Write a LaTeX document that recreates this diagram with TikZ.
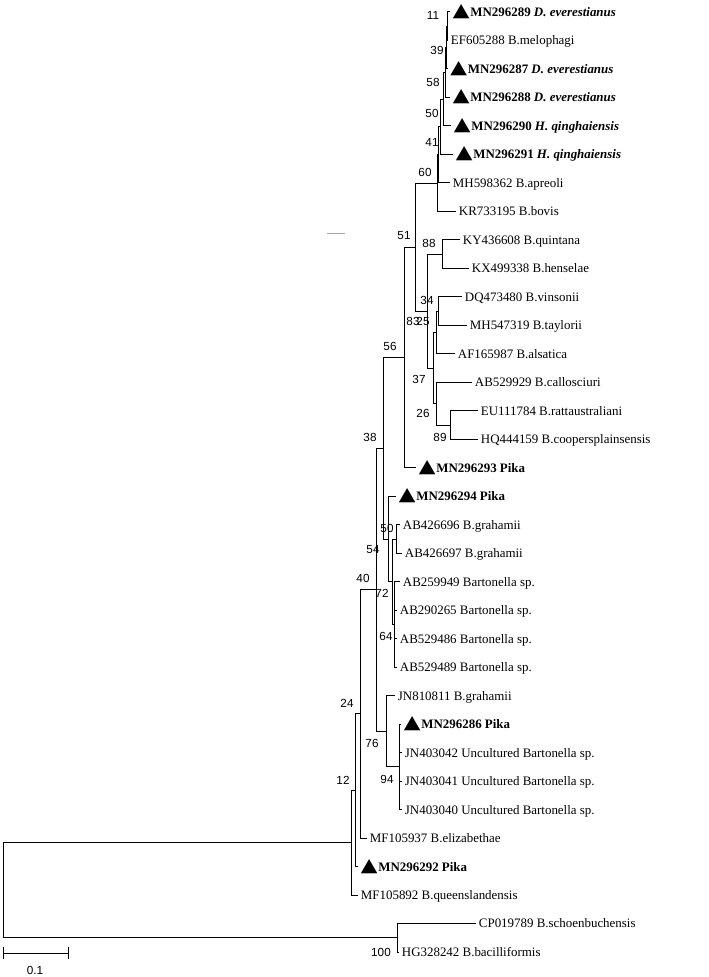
\documentclass[tikz,border=0pt]{standalone}
\usepackage{fontspec}
\usepackage{graphicx}
\setmainfont{Liberation Serif}
\newfontfamily\bootfont{Liberation Sans}
\newfontfamily\trifont{DejaVu Sans}
\usetikzlibrary{positioning}

\newcommand{\tri}{\resizebox{12.5pt}{9pt}{\trifont ▲}\hspace{0.6pt}}

\tikzset{
  branch/.style={line width=0.75pt},
  taxon/.style={anchor=west, inner xsep=2pt, inner ysep=0pt, text height=0.66em, text depth=0pt, font=\fontsize{9.7}{10}\selectfont},
  pika/.style={taxon, font=\fontsize{9.7}{10}\selectfont\bfseries},
  boot/.style={inner sep=0pt, font=\bootfont\fontsize{8.8}{9}\selectfont},
}

\begin{document}
\begin{tikzpicture}[x=0.75pt, y=-0.75pt]
    \useasboundingbox (0,0) rectangle (709,977);

    % 1. TAXA (tip of each branch, rows 28.485 apart)
    \node[pika]  (l0)  at (450, 12.0)  {\tri MN296289 \textit{D. everestianus}};
    \node[taxon] (l1)  at (448, 40.5)  {EF605288 B.melophagi};
    \node[pika]  (l2)  at (447.5, 69.0) {\tri MN296287 \textit{D. everestianus}};
    \node[pika]  (l3)  at (450, 97.5)  {\tri MN296288 \textit{D. everestianus}};
    \node[pika]  (l4)  at (451, 125.9) {\tri MN296290 \textit{H. qinghaiensis}};
    \node[pika]  (l5)  at (453, 154.4) {\tri MN296291 \textit{H. qinghaiensis}};
    \node[taxon] (l6)  at (450, 182.9) {MH598362 B.apreoli};
    \node[taxon] (l7)  at (456, 211.4) {KR733195 B.bovis};
    \node[taxon] (l8)  at (460, 239.9) {KY436608 B.quintana};
    \node[taxon] (l9)  at (469, 268.4) {KX499338 B.henselae};
    \node[taxon] (l10) at (462, 296.9) {DQ473480 B.vinsonii};
    \node[taxon] (l11) at (467, 325.3) {MH547319 B.taylorii};
    \node[taxon] (l12) at (455, 353.8) {AF165987 B.alsatica};
    \node[taxon] (l13) at (472, 382.3) {AB529929 B.callosciuri};
    \node[taxon] (l14) at (478, 410.8) {EU111784 B.rattaustraliani};
    \node[taxon] (l15) at (478, 439.3) {HQ444159 B.coopersplainsensis};
    \node[pika]  (l16) at (416, 467.8) {\tri MN296293 Pika};
    \node[pika]  (l17) at (396, 496.2) {\tri MN296294 Pika};
    \node[taxon] (l18) at (400, 524.7) {AB426696 B.grahamii};
    \node[taxon] (l19) at (402, 553.2) {AB426697 B.grahamii};
    \node[taxon] (l20) at (400, 581.7) {AB259949 Bartonella sp.};
    \node[taxon] (l21) at (397, 610.2) {AB290265 Bartonella sp.};
    \node[taxon] (l22) at (397, 638.6) {AB529486 Bartonella sp.};
    \node[taxon] (l23) at (397, 667.1) {AB529489 Bartonella sp.};
    \node[taxon] (l24) at (395, 695.6) {JN810811 B.grahamii};
    \node[pika]  (l25) at (401, 724.1) {\tri MN296286 Pika};
    \node[taxon] (l26) at (402, 752.6) {JN403042 Uncultured Bartonella sp.};
    \node[taxon] (l27) at (402, 781.1) {JN403041 Uncultured Bartonella sp.};
    \node[taxon] (l28) at (402, 809.6) {JN403040 Uncultured Bartonella sp.};
    \node[taxon] (l29) at (367, 838.1) {MF105937 B.elizabethae};
    \node[pika]  (l30) at (358, 866.6) {\tri MN296292 Pika};
    \node[taxon] (l31) at (358, 895.0) {MF105892 B.queenslandensis};
    \node[taxon] (l32) at (476, 923.5) {CP019789 B.schoenbuchensis};
    \node[taxon] (l33) at (399, 952.0) {HG328242 B.bacilliformis};

    % 2. INTERNAL NODES (x = distance from root)
    \coordinate (n11)  at (447, 26.3);
    \coordinate (n39)  at (446, 47.6);
    \coordinate (n58)  at (445, 72.6);
    \coordinate (n50a) at (443, 99.2);
    \coordinate (n41)  at (440, 126.8);
    \coordinate (nx)   at (438.5, 154.9);
    \coordinate (n60)  at (437.5, 183.1);
    \coordinate (n88)  at (442, 254.2);
    \coordinate (n34)  at (438, 311.1);
    \coordinate (n25)  at (436, 332.5);
    \coordinate (n89)  at (450, 425.1);
    \coordinate (n26)  at (436, 403.7);
    \coordinate (n37)  at (433, 368.1);
    \coordinate (n83)  at (427, 311.2);
    \coordinate (n51)  at (415, 247.2);
    \coordinate (n56)  at (404, 357.5);
    \coordinate (n50)  at (396, 539.0);
    \coordinate (n64)  at (394, 624.4);
    \coordinate (n72)  at (392, 581.7);
    \coordinate (n54)  at (388, 539.0);
    \coordinate (n38)  at (383, 448.2);
    \coordinate (n94)  at (399, 766.9);
    \coordinate (n76)  at (386, 731.2);
    \coordinate (n40)  at (376, 589.7);
    \coordinate (n24)  at (360, 713.9);
    \coordinate (n12)  at (355, 790.2);
    \coordinate (nin)  at (351, 842.6);
    \coordinate (nout) at (397, 937.8);
    \coordinate (root) at (3, 890.2);

    % 3. BRANCHES
    \foreach \p/\c in {n11/l0.west, n11/l1.west, n39/n11, n39/l2.west,
        n58/n39, n58/l3.west, n50a/n58, n50a/l4.west, n41/n50a, n41/l5.west,
        nx/n41, nx/l6.west, n60/nx, n60/l7.west,
        n88/l8.west, n88/l9.west, n34/l10.west, n34/l11.west,
        n25/n34, n25/l12.west, n89/l14.west, n89/l15.west,
        n26/l13.west, n26/n89, n37/n25, n37/n26, n83/n88, n83/n37,
        n51/n60, n51/n83, n56/n51, n56/l16.west,
        n50/l18.west, n50/l19.west,
        n64/l20.west, n64/l21.west, n64/l22.west, n64/l23.west,
        n72/n50, n72/n64, n54/l17.west, n54/n72, n38/n56, n38/n54,
        n94/l25.west, n94/l26.west, n94/l27.west, n94/l28.west,
        n76/l24.west, n76/n94, n40/n38, n40/n76,
        n24/n40, n24/l29.west, n12/n24, n12/l30.west,
        nin/n12, nin/l31.west, nout/l32.west, nout/l33.west,
        root/nin, root/nout}
        \draw[branch] (\p) |- (\c);

    % 4. BOOTSTRAP VALUES
    \foreach \x/\y/\v [count=\i] in {433/15/11, 437/50/39, 433/82/58, 432/113/50,
        432/142/41, 425/172/60, 404/236/51, 429/243/88, 427/300/34, 413/321/83,
        423/321/25, 390/346/56, 419/379/37, 423/413/26, 440/437/89, 370/437/38,
        387/528/50, 373/550/54, 363/578/40, 382/593/72, 386/636/64, 347/703/24,
        372/743/76, 387/779/94, 343/780/12, 381/952/100}
        \node[boot] (bs\i) at (\x,\y) {\v};

    % stray tick left in the figure
    \draw[gray!70, line width=0.5pt] (327,233) -- (345,233);

    % 5. SCALE BAR
    \coordinate (sbl) at (3,953);
    \coordinate (sbr) at (68,953);
    \draw[branch] (sbl) -- (sbr);
    \draw[branch] ([yshift=4.5pt]sbl) -- ([yshift=-4.5pt]sbl);
    \draw[branch] ([yshift=4.5pt]sbr) -- ([yshift=-4.5pt]sbr);
    \node[boot] (sbt) at (35,970) {0.1};

\end{tikzpicture}
\end{document}
